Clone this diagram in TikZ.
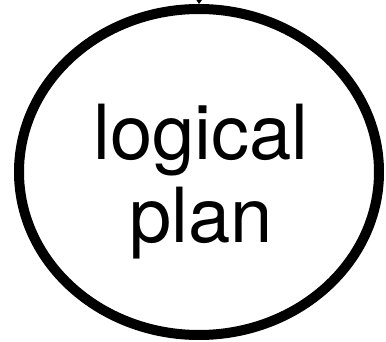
\documentclass[tikz,border=0pt]{standalone}
\usepackage{fontspec}
\setmainfont{TeX Gyre Heros}
\usetikzlibrary{shapes.geometric,arrows.meta}
\begin{document}
\begin{tikzpicture}[x=1pt,y=-1pt,
  plannode/.style={ellipse,draw,line width=10pt,inner sep=0pt,minimum width=360pt,minimum height=326pt},
  plantext/.style={align=center,inner sep=0pt,font=\fontsize{76}{83}\selectfont},
  feed/.style={line width=1pt,-{Triangle[width=8pt,length=6pt]}}]
\useasboundingbox (0,0) rectangle (386,342);
\node[plannode] (lp) at (199,172) {};
\node[plantext] (lptext) at (201,182) {logical\\plan};
\coordinate (src) at (200,-30);
\draw[feed] (src) -- (lp.north);
\end{tikzpicture}
\end{document}
